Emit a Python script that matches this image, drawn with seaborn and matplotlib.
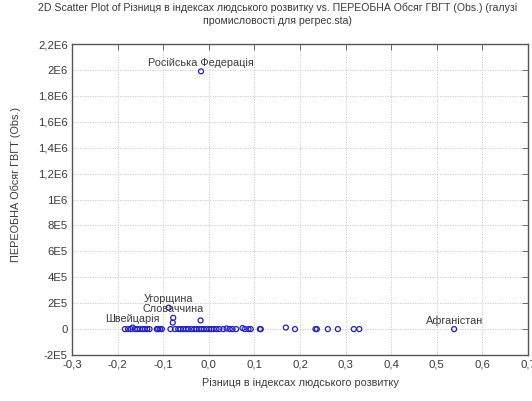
import numpy as np
import pandas as pd
import matplotlib
matplotlib.use("Agg")
import matplotlib.pyplot as plt
import seaborn as sns
from matplotlib.ticker import FixedLocator, FixedFormatter

# Data
hdi_diff = [-0.184, -0.177, -0.171, -0.167, -0.162, -0.157, -0.151, -0.145,
            -0.140, -0.135, -0.130, -0.114, -0.111, -0.107, -0.103,
            -0.088, -0.078, -0.084, -0.079, -0.074, -0.067, -0.062, -0.056,
            -0.050, -0.045, -0.038, -0.032, -0.027, -0.021, -0.018, -0.016,
            -0.017, -0.011, -0.005, 0.001, 0.006, 0.011, 0.017, 0.023,
            0.032, 0.039, 0.046, 0.052, 0.060, 0.074, 0.079, 0.087, 0.092,
            0.112, 0.114, 0.169, 0.189, 0.234, 0.237, 0.261, 0.283, 0.318,
            0.330, 0.538]
volume = [0, 0, 0, 12000, 0, 0, 0, 0,
          0, 0, 0, 0, 0, 0, 0,
          165000, 87000, 0, 50000, 0, 0, 0, 0,
          0, 0, 0, 0, 0, 0, 67000, 0,
          1990000, 0, 0, 0, 0, 0, 0, 0,
          0, 5000, 0, 0, 0, 8000, 0, 0, 0,
          0, 0, 12000, 0, 0, 0, 0, 0, 0,
          0, 0]
names = [""] * len(hdi_diff)
names[3] = "Швейцарія"
names[15] = "Угорщина"
names[16] = "Словаччина"
names[31] = "Російська Федерація"
names[-1] = "Афганістан"

x_ticks = [-0.3, -0.2, -0.1, 0.0, 0.1, 0.2, 0.3, 0.4, 0.5, 0.6, 0.7]
x_tick_labels = ["-0,3", "-0,2", "-0,1", "0,0", "0,1", "0,2", "0,3", "0,4",
                 "0,5", "0,6", "0,7"]
y_ticks = [-2e5, 0, 2e5, 4e5, 6e5, 8e5, 1e6, 1.2e6, 1.4e6, 1.6e6, 1.8e6,
           2e6, 2.2e6]
y_tick_labels = ["-2E5", "0", "2E5", "4E5", "6E5", "8E5", "1E6", "1,2E6",
                 "1,4E6", "1,6E6", "1,8E6", "2E6", "2,2E6"]

df = pd.DataFrame({"x": hdi_diff, "y": volume, "name": names})

sns.set_style("white")
plt.rcParams['font.family'] = ['Liberation Sans', 'DejaVu Sans']
txt = "#3a3a3a"

fig = plt.figure(figsize=(5.32, 4.01), dpi=100)
ax = fig.add_axes([0.1353, 0.1147, 0.8572, 0.7753])

sns.scatterplot(data=df, x="x", y="y", ax=ax, s=13, marker="o",
                facecolors="none", edgecolor="#2020cc", linewidth=0.9,
                zorder=3)

for _, r in df[df["name"] != ""].iterrows():
    ax.annotate(r["name"], (r["x"], r["y"]), xytext=(0, 2.5),
                textcoords="offset points", ha="center", va="bottom",
                fontsize=7.8, color=txt, zorder=4)

ax.set_xlim(-0.3, 0.7)
ax.set_ylim(-2e5, 2.2e6)
ax.xaxis.set_major_locator(FixedLocator(x_ticks))
ax.xaxis.set_major_formatter(FixedFormatter(x_tick_labels))
ax.yaxis.set_major_locator(FixedLocator(y_ticks))
ax.yaxis.set_major_formatter(FixedFormatter(y_tick_labels))

ax.grid(True, color="#c8c8c8", linestyle=(0, (1.5, 1.5)), linewidth=0.6)
ax.tick_params(direction="in", length=4, width=0.6, colors="#555555",
               labelcolor=txt, labelsize=8.2, top=True, right=True, pad=3)
for sp in ax.spines.values():
    sp.set_color("#555555")
    sp.set_linewidth(1.0)

ax.set_xlabel("Різниця в індексах людського розвитку", fontsize=7.8,
              color=txt, labelpad=6)
ax.set_ylabel("ПЕРЕОБНА Обсяг ГВГТ (Obs.)", fontsize=7.8, color=txt)
ax.yaxis.set_label_coords(-0.112, 0.55)

fig.text(0.521, 0.994,
         "2D Scatter Plot of Різниця в індексах людського розвитку vs. "
         "ПЕРЕОБНА Обсяг ГВГТ (Obs.) (галузі\nпромисловості для регрес.sta)",
         ha="center", va="top", fontsize=7.6, color=txt, linespacing=1.35)

fig.savefig("out.png", dpi=100)
